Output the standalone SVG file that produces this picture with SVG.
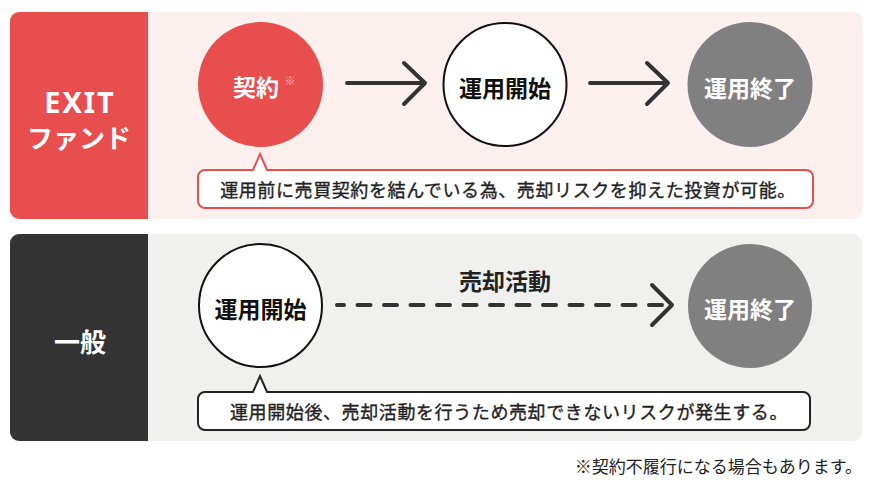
<svg xmlns="http://www.w3.org/2000/svg" width="871" height="482" viewBox="0 0 871 482">
<style>
text{font-family:"Noto Sans CJK JP","Noto Sans",sans-serif;dominant-baseline:central;text-anchor:middle}
.b{font-weight:700}
.lab{font-size:23px;font-weight:700}
.call{font-size:18px;fill:#222;stroke:#222;stroke-width:0.35px;letter-spacing:0.6px}
.arrow{fill:none;stroke:#333;stroke-width:4;stroke-linecap:round;stroke-linejoin:round}
</style>
<rect width="871" height="482" fill="#fff"/>
<g id="panel-exit">
<rect x="10" y="12" width="852" height="207" rx="9" fill="#FCF0EF"/>
<path d="M19 12H148V219H19A9 9 0 0 1 10 210V21A9 9 0 0 1 19 12Z" fill="#E94E4F"/>
<text x="80" y="101" class="b" font-size="29" fill="#fff" letter-spacing="2" style="font-family:'Noto Sans',sans-serif">EXIT</text>
<text x="79" y="136" class="b" font-size="26" fill="#fff">ファンド</text>
</g>
<g id="panel-general">
<rect x="10" y="234" width="852" height="207" rx="9" fill="#F0F0EF"/>
<path d="M19 234H148V441H19A9 9 0 0 1 10 432V243A9 9 0 0 1 19 234Z" fill="#333333"/>
<text x="80" y="340" class="b" font-size="26" fill="#fff">一般</text>
</g>
<g id="connectors">
<path class="arrow" d="M347 83H425M404 63L425 83L404 104"/>
<path class="arrow" d="M590 83H668M647 63L668 83L647 104"/>
<path class="arrow" d="M337 305H668" stroke-dasharray="13 13.5" stroke-dashoffset="6"/>
<path class="arrow" d="M652 285L672 305L652 325"/>
<text x="505" y="280" class="lab" fill="#222">売却活動</text>
</g>
<g id="node-keiyaku">
<circle cx="260.5" cy="84.5" r="62.5" fill="#E94E4F"/>
<text x="256" y="86" class="lab" fill="#fff">契約</text>
<text x="290" y="80" font-size="11" fill="#F6B8B8">※</text>
</g>
<g id="node-start-exit">
<circle cx="505" cy="84.5" r="61.5" fill="#fff" stroke="#111" stroke-width="2"/>
<text x="505" y="87" class="lab" fill="#111">運用開始</text>
</g>
<g id="node-end-exit">
<circle cx="750" cy="84.5" r="62.5" fill="#808080"/>
<text x="750" y="87" class="lab" fill="#fff">運用終了</text>
</g>
<g id="callout-exit">
<path d="M205 170H253L260 154L267 170H806A7 7 0 0 1 813 177V201A7 7 0 0 1 806 208H205A7 7 0 0 1 198 201V177A7 7 0 0 1 205 170Z" fill="#fff" stroke="#E94E4F" stroke-width="2"/>
<text x="508" y="189" class="call">運用前に売買契約を結んでいる為、売却リスクを抑えた投資が可能。</text>
</g>
<g id="node-start-general">
<circle cx="260.5" cy="305.5" r="61.5" fill="#fff" stroke="#111" stroke-width="2"/>
<text x="260.5" y="308" class="lab" fill="#111">運用開始</text>
</g>
<g id="node-end-general">
<circle cx="750" cy="306" r="62" fill="#808080"/>
<text x="750" y="308" class="lab" fill="#fff">運用終了</text>
</g>
<g id="callout-general">
<path d="M205 392H253L260 376L267 392H803A7 7 0 0 1 810 399V423A7 7 0 0 1 803 430H205A7 7 0 0 1 198 423V399A7 7 0 0 1 205 392Z" fill="#fff" stroke="#222" stroke-width="2"/>
<text x="509" y="411" class="call">運用開始後、売却活動を行うため売却できないリスクが発生する。</text>
</g>
<text x="862" y="465" font-size="17" fill="#222" style="text-anchor:end">※契約不履行になる場合もあります。</text>
</svg>
